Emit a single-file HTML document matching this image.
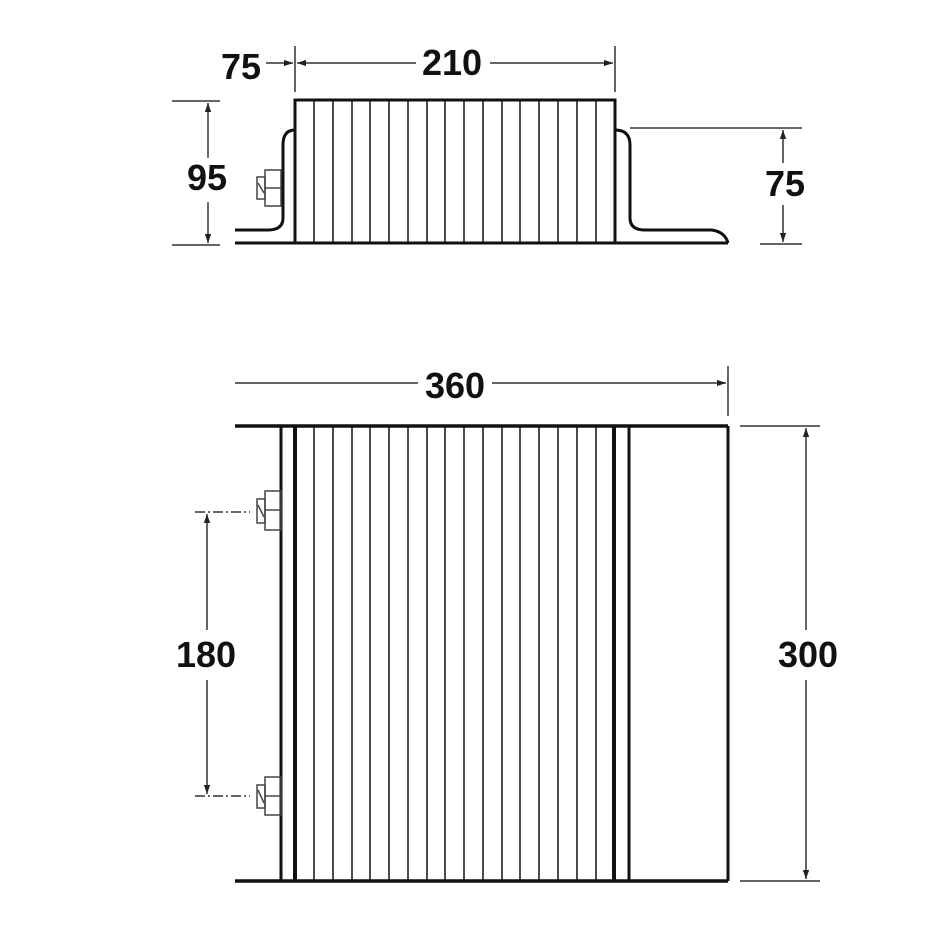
<!DOCTYPE html>
<html><head><style>html,body{margin:0;padding:0;background:#fff}svg{display:block}</style></head>
<body>
<svg width="952" height="952" viewBox="0 0 952 952" xmlns="http://www.w3.org/2000/svg">
<defs>
<marker id="a" viewBox="0 0 10 10" refX="10" refY="5" markerWidth="9" markerHeight="9" orient="auto-start-reverse" markerUnits="userSpaceOnUse"><path d="M0,1.5 L10,5 L0,8.5 Z" fill="#222"/></marker>
</defs>
<g font-family="Liberation Sans, sans-serif" font-weight="bold" font-size="36" fill="#111" text-anchor="middle">
<text x="241" y="79">75</text>
<text x="452" y="75">210</text>
<text x="207" y="190">95</text>
<text x="785" y="196">75</text>
<text x="455" y="398">360</text>
<text x="206" y="667">180</text>
<text x="808" y="667">300</text>
</g>
<g stroke="#333" stroke-width="1.5" fill="none">
<line x1="295" y1="46" x2="295" y2="92"/>
<line x1="615" y1="46" x2="615" y2="92"/>
<line x1="266" y1="63" x2="293" y2="63" marker-end="url(#a)"/>
<line x1="297" y1="63" x2="416" y2="63" marker-start="url(#a)"/>
<line x1="490" y1="63" x2="613" y2="63" marker-end="url(#a)"/>
<line x1="172" y1="101" x2="220" y2="101"/>
<line x1="172" y1="245" x2="220" y2="245"/>
<line x1="208" y1="103" x2="208" y2="158" marker-start="url(#a)"/>
<line x1="208" y1="202" x2="208" y2="243" marker-end="url(#a)"/>
<line x1="630" y1="128" x2="802" y2="128"/>
<line x1="760" y1="244" x2="802" y2="244"/>
<line x1="783" y1="130" x2="783" y2="163" marker-start="url(#a)"/>
<line x1="783" y1="205" x2="783" y2="242" marker-end="url(#a)"/>
<line x1="728" y1="366" x2="728" y2="416"/>
<line x1="235" y1="383" x2="418" y2="383"/>
<line x1="492" y1="383" x2="726" y2="383" marker-end="url(#a)"/>
<line x1="740" y1="426" x2="820" y2="426"/>
<line x1="740" y1="881" x2="820" y2="881"/>
<line x1="806" y1="428" x2="806" y2="630" marker-start="url(#a)"/>
<line x1="806" y1="680" x2="806" y2="879" marker-end="url(#a)"/>
<line x1="195" y1="512" x2="250" y2="512" stroke-dasharray="10,3,2,3"/>
<line x1="195" y1="796" x2="250" y2="796" stroke-dasharray="10,3,2,3"/>
<line x1="207" y1="514" x2="207" y2="630" marker-start="url(#a)"/>
<line x1="207" y1="680" x2="207" y2="794" marker-end="url(#a)"/>
</g>
<g stroke="#111" fill="none">
<rect x="295" y="100" width="320" height="143" stroke-width="3"/>
<line x1="235" y1="243" x2="728" y2="243" stroke-width="3"/>
<path d="M295,130 Q283,130 283,145 L283,218 Q283,230 268,230 L235,230" stroke-width="3"/>
<path d="M615,130 Q630,130 630,145 L630,218 Q630,230 645,230 L712,230 Q725,232 728,243" stroke-width="3"/>
<g stroke-width="1.5">
<line x1="314" y1="100" x2="314" y2="243"/><line x1="333" y1="100" x2="333" y2="243"/><line x1="352" y1="100" x2="352" y2="243"/><line x1="370" y1="100" x2="370" y2="243"/><line x1="389" y1="100" x2="389" y2="243"/><line x1="408" y1="100" x2="408" y2="243"/><line x1="427" y1="100" x2="427" y2="243"/><line x1="445" y1="100" x2="445" y2="243"/><line x1="464" y1="100" x2="464" y2="243"/><line x1="483" y1="100" x2="483" y2="243"/><line x1="502" y1="100" x2="502" y2="243"/><line x1="520" y1="100" x2="520" y2="243"/><line x1="539" y1="100" x2="539" y2="243"/><line x1="558" y1="100" x2="558" y2="243"/><line x1="577" y1="100" x2="577" y2="243"/><line x1="596" y1="100" x2="596" y2="243"/>
</g>
<g stroke-width="1.5" stroke="#444">
<rect x="265" y="170" width="16" height="36"/><line x1="265" y1="188" x2="281" y2="188"/>
<rect x="257" y="177" width="8" height="22"/><line x1="258" y1="183" x2="264" y2="193"/>
</g>
</g>
<g stroke="#111" fill="none">
<line x1="235" y1="426" x2="728" y2="426" stroke-width="3.5"/>
<line x1="235" y1="881" x2="728" y2="881" stroke-width="3.5"/>
<line x1="728" y1="426" x2="728" y2="881" stroke-width="3"/>
<line x1="281" y1="426" x2="281" y2="881" stroke-width="3"/>
<line x1="295" y1="426" x2="295" y2="881" stroke-width="4"/>
<line x1="614" y1="426" x2="614" y2="881" stroke-width="4"/>
<line x1="629" y1="426" x2="629" y2="881" stroke-width="3"/>
<g stroke-width="1.5">
<line x1="314" y1="426" x2="314" y2="881"/><line x1="333" y1="426" x2="333" y2="881"/><line x1="352" y1="426" x2="352" y2="881"/><line x1="370" y1="426" x2="370" y2="881"/><line x1="389" y1="426" x2="389" y2="881"/><line x1="408" y1="426" x2="408" y2="881"/><line x1="427" y1="426" x2="427" y2="881"/><line x1="445" y1="426" x2="445" y2="881"/><line x1="464" y1="426" x2="464" y2="881"/><line x1="483" y1="426" x2="483" y2="881"/><line x1="502" y1="426" x2="502" y2="881"/><line x1="520" y1="426" x2="520" y2="881"/><line x1="539" y1="426" x2="539" y2="881"/><line x1="558" y1="426" x2="558" y2="881"/><line x1="577" y1="426" x2="577" y2="881"/><line x1="596" y1="426" x2="596" y2="881"/>
</g>
<g stroke-width="1.5" stroke="#444">
<rect x="265" y="491" width="16" height="39"/><line x1="265" y1="510" x2="281" y2="510"/>
<rect x="257" y="499" width="8" height="24"/><line x1="258" y1="505" x2="264" y2="517"/>
<rect x="265" y="777" width="16" height="38"/><line x1="265" y1="796" x2="281" y2="796"/>
<rect x="257" y="785" width="8" height="23"/><line x1="258" y1="790" x2="264" y2="803"/>
</g>
</g>
</svg>
</body></html>
